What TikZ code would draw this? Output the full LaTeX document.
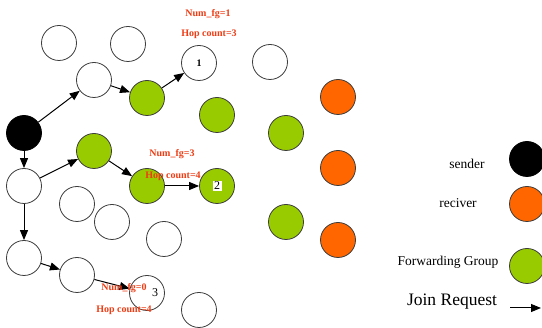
\documentclass[tikz,border=0pt]{standalone}
\usepackage{fontspec}
\setmainfont{Liberation Serif}
\usetikzlibrary{arrows.meta}
\definecolor{fg}{RGB}{153,204,0}
\definecolor{rc}{RGB}{255,102,0}
\definecolor{lab}{RGB}{238,60,20}
\definecolor{edge}{RGB}{60,60,60}
\tikzset{
  nd/.style={circle,draw=edge,line width=0.8pt,minimum size=35pt,inner sep=0pt,fill=white},
  fgn/.style={nd,fill=fg},
  rcn/.style={nd,fill=rc},
  snd/.style={nd,fill=black,draw=black},
  arr/.style={-{Triangle[length=10pt,width=8pt]},line width=1pt,black},
  red/.style={text=lab,font=\fontsize{10}{12}\selectfont\bfseries,inner sep=0pt},
  leg/.style={font=\fontsize{13.5}{15}\selectfont,inner sep=0pt}
}
\begin{document}
\begin{tikzpicture}[x=1pt,y=-1pt]
\useasboundingbox (0,0) rectangle (542,328);
% white circles
\node[nd] (w1) at (59,43) {};
\node[nd] (w2) at (128,44) {};
\node[nd] (n1) at (199,63) {\bfseries 1};
\node[nd] (w3) at (270,62) {};
\node[nd] (a) at (94,80) {};
\node[nd] (b) at (24,186) {};
\node[nd] (w4) at (77,204) {};
\node[nd] (w5) at (112,222) {};
\node[nd] (w6) at (164,239) {};
\node[nd] (c) at (24,258) {};
\node[nd] (d) at (77,275) {};
\node[nd] (n3) at (147,293) {};
\node[nd] (w7) at (199,310) {};
% sender
\node[snd] (s) at (24,133) {};
% forwarding group
\node[fgn] (g1) at (147,98) {};
\node[fgn] (g2) at (217,115) {};
\node[fgn] (g3) at (94,151) {};
\node[fgn] (g4) at (147,186) {};
\node[fgn] (n2) at (217,186) {};
\node[fgn] (g5) at (286,133) {};
\node[fgn] (g6) at (286,222) {};
% receivers
\node[rcn] (r1) at (338,97) {};
\node[rcn] (r2) at (338,168) {};
\node[rcn] (r3) at (338,240) {};
% node labels
\node[fill=white,inner sep=1.5pt,font=\fontsize{12}{14}\selectfont] (l2) at (217,186) {2};
\node[font=\fontsize{12}{14}\selectfont,inner sep=0pt] (l3) at (155,293) {3};
% arrows
\draw[arr] (s) -- (a);
\draw[arr] (a) -- (g1);
\draw[arr] (g1) -- (n1);
\draw[arr] (s) -- (b);
\draw[arr] (b) -- (g3);
\draw[arr] (g3) -- (g4);
\draw[arr] (g4) -- (n2);
\draw[arr] (b) -- (c);
\draw[arr] (c) -- (d);
\draw[arr] (d) -- (n3);
% red labels
\node[red] (t1) at (208,14) {Num\_fg=1};
\node[red] (t2) at (209,34) {Hop count=3};
\node[red] (t3) at (172,154) {Num\_fg=3};
\node[red] (t4) at (173,176) {Hop count=4};
\node[red] (t5) at (124,288) {Num\_fg=0};
\node[red] (t6) at (124,310) {Hop count=4};
% legend
\node[snd] (ls) at (527,159) {};
\node[rcn] (lr) at (527,204) {};
\node[fgn] (lg) at (527,266) {};
\node[leg] (ts) at (467,164) {sender};
\node[leg] (tr) at (458,203) {reciver};
\node[leg] (tg) at (448,262) {Forwarding Group};
\node[font=\fontsize{17.5}{19}\selectfont,inner sep=0pt] (tj) at (452,302) {Join Request};
\coordinate (ja) at (510,308);
\coordinate (jb) at (541,308);
\draw[arr] (ja) -- (jb);
\end{tikzpicture}
\end{document}
